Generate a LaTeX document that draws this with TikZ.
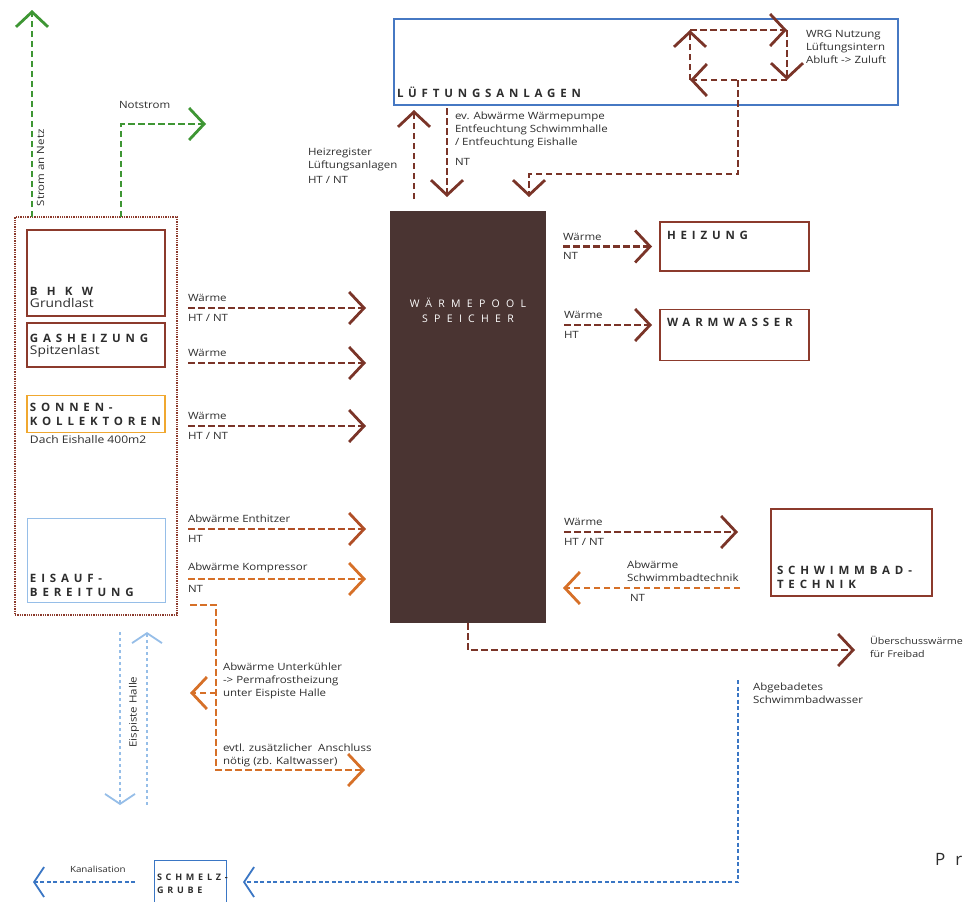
\documentclass[tikz,border=0pt]{standalone}
\usepackage{fontspec}
\setmainfont{Open Sans}[FakeStretch=1.15]
\newfontfamily\capsfont[LetterSpace=42]{Open Sans}
\newfontfamily\widecapsfont[LetterSpace=80]{Open Sans}
\newfontfamily\poolfont[LetterSpace=60]{Open Sans}
\usetikzlibrary{arrows.meta,positioning,calc}
\definecolor{heatbrown}{RGB}{122,52,40}
\definecolor{rust}{RGB}{176,78,38}
\definecolor{amber}{RGB}{214,112,40}
\definecolor{leaf}{RGB}{62,150,52}
\definecolor{water}{RGB}{58,118,196}
\definecolor{iceblue}{RGB}{150,190,232}
\definecolor{boxred}{RGB}{140,58,44}
\definecolor{sunorange}{RGB}{240,168,48}
\definecolor{ventblue}{RGB}{70,120,195}
\definecolor{poolbrown}{RGB}{74,52,50}
\definecolor{ink}{RGB}{45,45,45}

\begin{document}
\begin{tikzpicture}[x=1pt, y=-1pt,
  every node/.style={inner sep=0pt, outer sep=0pt, align=left, text=ink},
  chev/.tip={Straight Barb[length=15pt, width=32pt, line width=2.8pt]},
  thinchev/.tip={Straight Barb[length=10pt, width=30pt, line width=1.8pt]},
  flow/.style={dash pattern=on 6.5pt off 3.5pt, line width=2.6pt, -chev},
  heatflow/.style={flow, draw=heatbrown},
  rustflow/.style={flow, draw=rust},
  amberflow/.style={flow, draw=amber},
  powerflow/.style={flow, draw=leaf},
  waterflow/.style={dash pattern=on 4pt off 2.5pt, line width=1.8pt, draw=water, -thinchev},
  iceflow/.style={dash pattern=on 3pt off 3pt, line width=1.6pt, draw=iceblue, -thinchev},
  lbl/.style={font=\fontsize{10}{13}\selectfont},
  sub/.style={font=\fontsize{12}{13}\selectfont},
  capt/.style={font=\capsfont\bfseries\fontsize{11.5}{14}\selectfont},
  unit/.style={draw=boxred, line width=1.4pt},
]
  \useasboundingbox (0,0) rectangle (967,902);

  % producers
  \node[draw=boxred, densely dotted, line width=1.3pt, minimum width=162, minimum height=398] (plant) at (96,416) {};
  \node[unit, minimum width=138, minimum height=86] (bhkw) at (96,273) {};
  \node[capt, font=\widecapsfont\bfseries\fontsize{11.5}{14}\selectfont, anchor=north west] (bhkwname) at (30,287) {BHKW};
  \node[sub, below=3pt of bhkwname.south west, anchor=north west] (bhkwsub) {Grundlast};
  \node[unit, minimum width=138, minimum height=44] (gas) at (96,345) {};
  \node[capt, anchor=north west] (gasname) at (30,334) {GASHEIZUNG};
  \node[sub, below=3pt of gasname.south west, anchor=north west] (gassub) {Spitzenlast};
  \node[draw=sunorange, line width=1.2pt, minimum width=138, minimum height=37] (solar) at (96,414) {};
  \node[capt, anchor=north west] (solarname) at (30,403) {SONNEN-\\KOLLEKTOREN};
  \node[sub, font=\fontsize{10.5}{12}\selectfont, anchor=north west] (solarsub) at (30,436) {Dach Eishalle 400m2};
  \node[draw=iceblue, line width=1pt, minimum width=138, minimum height=84] (ice) at (96,560) {};
  \node[capt, anchor=north west] (icename) at (30,574) {EISAUF-\\BEREITUNG};

  % power
  \coordinate (grid) at (32,10);
  \coordinate (gridfoot) at (32,217);
  \draw[powerflow] (gridfoot) -- (grid);
  \node[lbl, rotate=90, anchor=north west] (gridlbl) at (37,206) {Strom an Netz};
  \coordinate (emergfoot) at (121,217);
  \coordinate (emerg) at (206,124);
  \draw[powerflow] (emergfoot) |- (emerg);
  \node[lbl, anchor=west] (emerglbl) at (119,105) {Notstrom};

  % storage
  \node[fill=poolbrown, minimum width=156, minimum height=412] (pool) at (468,417) {};
  \node[font=\poolfont\fontsize{10.5}{15.5}\selectfont, text=white, align=center, anchor=north] (poolname) at (468,298) {WÄRMEPOOL\\SPEICHER};
  \coordinate (poolin) at ([xshift=-24pt]pool.west);
  \coordinate (poolout) at ([xshift=17pt]pool.east);

  % heat into the storage
  \coordinate (bhkwtap) at (188,308);
  \draw[heatflow] (bhkwtap) -- (bhkwtap -| poolin);
  \node[lbl, anchor=south west] (bhkwheat) at ([yshift=6pt]bhkwtap) {Wärme};
  \node[lbl, anchor=north west] (bhkwtemp) at ([yshift=-6pt]bhkwtap) {HT / NT};
  \coordinate (gastap) at (188,363);
  \draw[heatflow] (gastap) -- (gastap -| poolin);
  \node[lbl, anchor=south west] (gasheat) at ([yshift=6pt]gastap) {Wärme};
  \coordinate (soltap) at (188,426);
  \draw[heatflow] (soltap) -- (soltap -| poolin);
  \node[lbl, anchor=south west] (solheat) at ([yshift=6pt]soltap) {Wärme};
  \node[lbl, anchor=north west] (soltemp) at ([yshift=-6pt]soltap) {HT / NT};
  \coordinate (desup) at (188,529);
  \draw[rustflow] (desup) -- (desup -| poolin);
  \node[lbl, anchor=south west] (desuplbl) at ([yshift=6pt]desup) {Abwärme Enthitzer};
  \node[lbl, anchor=north west] (desuptemp) at ([yshift=-6pt]desup) {HT};
  \coordinate (comp) at (188,579);
  \draw[amberflow] (comp) -- (comp -| poolin);
  \node[lbl, anchor=south west] (complbl) at ([yshift=6pt]comp) {Abwärme Kompressor};
  \node[lbl, anchor=north west] (comptemp) at ([yshift=-6pt]comp) {NT};

  % subcooler
  \coordinate (subc) at (190,605);
  \coordinate (subcbend) at (216,605);
  \coordinate (subcleft) at (190,693);
  \coordinate (extra) at (365,770);
  \draw[amberflow] (subc) -- (subcbend) |- (extra);
  \draw[amberflow] (subcbend |- subcleft) -- (subcleft);
  \node[lbl, anchor=north west] (subclbl) at (223,663) {Abwärme Unterkühler\\-> Permafrostheizung\\unter Eispiste Halle};
  \node[lbl, anchor=north west] (extralbl) at (223,744) {evtl. zusätzlicher\ \ Anschluss\\nötig (zb. Kaltwasser)};

  % ice rink
  \coordinate (rinktop) at (120,632);
  \coordinate (rinkdown) at (120,805);
  \coordinate (rinkfoot) at (147,805);
  \coordinate (rinkup) at (147,632);
  \draw[iceflow] (rinktop) -- (rinkdown);
  \draw[iceflow] (rinkfoot) -- (rinkup);
  \node[lbl, rotate=90] (rinklbl) at (134,712) {Eispiste Halle};

  % ventilation
  \node[draw=ventblue, line width=1.2pt, minimum width=504, minimum height=86] (vent) at (646,62) {};
  \node[capt, anchor=base west] (ventname) at (397,97) {LÜFTUNGSANLAGEN};
  \coordinate (wrga) at (690,30);
  \coordinate (wrgb) at (787,30);
  \coordinate (wrgc) at (787,80);
  \coordinate (wrgd) at (690,80);
  \draw[heatflow] (wrga) -- (wrgb);
  \draw[heatflow] (wrgb) -- (wrgc);
  \draw[heatflow] (wrgc) -- (wrgd);
  \draw[heatflow] (wrgd) -- (wrga);
  \node[lbl, anchor=north west] (wrglbl) at (806,30) {WRG Nutzung\\Lüftungsintern\\Abluft -> Zuluft};
  \coordinate (wrgbend) at (738,174);
  \coordinate (wrgin) at (529,197);
  \draw[heatflow] (wrgc -| wrgbend) -- (wrgbend) -| (wrgin);
  \coordinate (regfoot) at (414,199);
  \coordinate (regtop) at (414,110);
  \draw[heatflow] (regfoot) -- (regtop);
  \node[lbl, anchor=north west] (reglbl) at (308,148) {Heizregister\\Lüftungsanlagen\\[2pt]HT / NT};
  \coordinate (hptop) at (447,108);
  \coordinate (hpin) at (447,197);
  \draw[heatflow] (hptop) -- (hpin);
  \node[lbl, anchor=north west] (hplbl) at (455,112) {ev. Abwärme Wärmepumpe\\Entfeuchtung Schwimmhalle\\/ Entfeuchtung Eishalle};
  \node[lbl, anchor=west] (hptemp) at (455,162) {NT};

  % consumers
  \node[unit, minimum width=149, minimum height=49] (heating) at (734.5,246.5) {};
  \node[capt, anchor=north west] (heatingname) at (667,231) {HEIZUNG};
  \coordinate (heattap) at (poolout |- heating);
  \draw[heatflow] (heattap) -- ([xshift=-8pt]heating.west);
  \node[lbl, anchor=south west] (heatinglbl) at ([yshift=6pt]heattap) {Wärme};
  \node[lbl, anchor=north west] (heatingtemp) at ([yshift=-6pt]heattap) {NT};
  \node[unit, minimum width=149, minimum height=51] (hotwater) at (734.5,335) {};
  \node[capt, anchor=north west] (hotwatername) at (667,318) {WARMWASSER};
  \coordinate (hwtap) at (564,325);
  \draw[heatflow] (hwtap) -- ([xshift=-8pt]hwtap -| hotwater.west);
  \node[lbl, anchor=south west] (hwlbl) at ([yshift=6pt]hwtap) {Wärme};
  \node[lbl, anchor=north west] (hwtemp) at ([yshift=-6pt]hwtap) {HT};

  % pool technology
  \node[unit, minimum width=161, minimum height=87] (pooltech) at (851.5,552.5) {};
  \node[capt, anchor=north west] (pooltechname) at (777,566) {SCHWIMMBAD-\\TECHNIK};
  \coordinate (swtap) at (564,532);
  \coordinate (swin) at (738,532);
  \draw[heatflow] (swtap) -- (swin);
  \node[lbl, anchor=south west] (swlbl) at ([yshift=6pt]swtap) {Wärme};
  \node[lbl, anchor=north west] (swtemp) at ([yshift=-6pt]swtap) {HT / NT};
  \coordinate (swret) at (740,588);
  \draw[amberflow] (swret) -- (swret -| poolout);
  \node[lbl, anchor=south west] (swretlbl) at (627,582) {Abwärme\\Schwimmbadtechnik};
  \node[lbl, anchor=west] (swrettemp) at (630,598) {NT};

  % surplus
  \coordinate (spill) at (855,650);
  \draw[heatflow] (pool.south) |- (spill);
  \node[lbl, font=\fontsize{9.3}{13}\selectfont, anchor=north west] (spilllbl) at (870,636) {Überschusswärme\\für Freibad};

  % waste water
  \node[draw=water, line width=1pt, minimum width=72, minimum height=50] (pit) at (190,885) {};
  \node[capt, font=\capsfont\bfseries\fontsize{9}{13}\selectfont, anchor=north west] (pitname) at (157,874) {SCHMELZ-\\GRUBE};
  \coordinate (drain) at (738,680);
  \coordinate (pitin) at (243,882);
  \draw[waterflow] (drain) |- (pitin);
  \node[lbl, anchor=north west] (drainlbl) at (753,683) {Abgebadetes\\Schwimmbadwasser};
  \coordinate (pitout) at (135,882);
  \coordinate (sewer) at (33,882);
  \draw[waterflow] (pitout) -- (sewer);
  \node[lbl, font=\fontsize{8.5}{9}\selectfont, anchor=west] (sewerlbl) at (70,869) {Kanalisation};

  \node[font=\poolfont\fontsize{17}{17}\selectfont, anchor=base west] (pr) at (935,865) {Pr};
\end{tikzpicture}
\end{document}
